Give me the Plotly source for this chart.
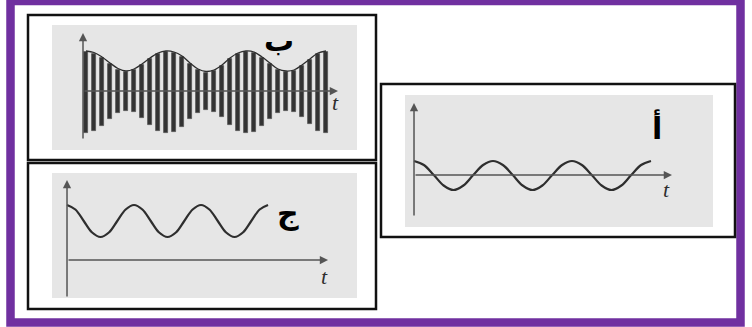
import plotly.graph_objects as go

W, H = 752, 327

# --- panel ب : modulated wave, one stripe per carrier cycle (heights in px above/below axis)
carrier_k = list(range(31))
am_top = [39, 37.5, 33, 27, 21.5, 19, 21, 26, 32, 37,
          39, 38, 34, 27, 21, 18.5, 20, 25, 32, 37,
          39, 38, 33, 27, 21, 19, 20, 25, 31, 37, 39]
am_bottom = [42, 40, 35, 28, 22, 19.5, 21, 27, 34, 40,
             42, 41, 36, 28, 22, 19, 21, 26, 34, 40,
             42, 41, 35, 28, 22, 19.5, 21, 26, 33, 40, 42]

# --- panel ج : wave sitting above the time axis (eighth-period samples)
wave_c_t = [i / 8 for i in range(25)]
wave_c_y = [55, 50.5, 39, 27.5, 23, 27.5, 39, 50.5] * 3 + [55]

# --- panel أ : wave centred on the time axis
wave_a_t = [i / 8 for i in range(25)]
wave_a_y = [14, 10, 0, -10.5, -15, -10.5, 0, 10] * 3 + [14]

panel_labels = ["ب", "ج", "أ"]
axis_label = "t"

INK = "#2e2e2e"
AXIS = "#555555"
GRAY = "#e6e6e6"
PURPLE = "#7030a0"


def px(x):
    return x / W


def py(y):
    return 1 - y / H


fig = go.Figure()

# panel ب
fig.add_trace(go.Bar(x=carrier_k, y=[a + b for a, b in zip(am_top, am_bottom)],
                     base=[-b for b in am_bottom], width=0.62,
                     marker=dict(color="#333333", line=dict(color="#555555", width=0.8)),
                     xaxis="x", yaxis="y"))
fig.add_trace(go.Scatter(x=carrier_k, y=[v + 1 for v in am_top], mode="lines",
                         line=dict(color=INK, width=1.3, shape="spline"),
                         xaxis="x", yaxis="y"))
# panel ج
fig.add_trace(go.Scatter(x=wave_c_t, y=wave_c_y, mode="lines",
                         line=dict(color=INK, width=2.2, shape="spline"),
                         xaxis="x2", yaxis="y2"))
# panel أ
fig.add_trace(go.Scatter(x=wave_a_t, y=wave_a_y, mode="lines",
                         line=dict(color=INK, width=2.2, shape="spline"),
                         xaxis="x3", yaxis="y3"))

hidden = dict(visible=False, fixedrange=True)
fig.update_layout(
    width=W, height=H, margin=dict(l=0, r=0, t=0, b=0),
    paper_bgcolor="white", plot_bgcolor="rgba(0,0,0,0)",
    showlegend=False, bargap=0,
    xaxis=dict(domain=[px(52), px(357)], range=[-4.25, 33.875], anchor="y", **hidden),
    yaxis=dict(domain=[py(150), py(25)], range=[-59, 66], anchor="x", **hidden),
    xaxis2=dict(domain=[px(52), px(357)], range=[-0.224, 4.328], anchor="y2", **hidden),
    yaxis2=dict(domain=[py(298), py(173)], range=[-38, 87], anchor="x2", **hidden),
    xaxis3=dict(domain=[px(405), px(713)], range=[-0.114, 3.785], anchor="y3", **hidden),
    yaxis3=dict(domain=[py(227), py(95)], range=[-52, 80], anchor="x3", **hidden),
)

# frames: purple border, black boxes, gray scanned areas
shapes = [
    dict(type="rect", xref="paper", yref="paper", x0=px(10.5), x1=px(740.5),
         y0=py(1), y1=py(322.5), line=dict(color=PURPLE, width=8.5), layer="below"),
]
for x0, y0, x1, y1 in [(28, 15, 376, 160), (28, 163, 376, 309), (381, 84, 735, 237)]:
    shapes.append(dict(type="rect", xref="paper", yref="paper", x0=px(x0), x1=px(x1),
                       y0=py(y0), y1=py(y1), line=dict(color="#111111", width=2.5),
                       fillcolor="white", layer="below"))
for x0, y0, x1, y1 in [(52, 25, 357, 150), (52, 173, 357, 298), (405, 95, 713, 227)]:
    shapes.append(dict(type="rect", xref="paper", yref="paper", x0=px(x0), x1=px(x1),
                       y0=py(y0), y1=py(y1), line=dict(width=0),
                       fillcolor=GRAY, layer="below"))
fig.update_layout(shapes=shapes)

# axis arrows: (xref, yref, origin x, bottom y, top y, right x)
axes_spec = [
    ("x", "y", -0.375, -49, 58, 31.5),
    ("x2", "y2", 0, -38, 80, 3.896),
    ("x3", "y3", 0, -42, 72, 3.266),
]
ann = []
for xr, yr, x0, yb, yt, xe in axes_spec:
    # horizontal time axis
    ann.append(dict(xref=xr, yref=yr, axref=xr, ayref=yr, x=xe, y=0, ax=x0, ay=0,
                    text="", showarrow=True, arrowhead=2, arrowsize=1.1,
                    arrowwidth=1.5, arrowcolor=AXIS, standoff=0))
    # vertical axis
    ann.append(dict(xref=xr, yref=yr, axref=xr, ayref=yr, x=x0, y=yt, ax=x0, ay=yb,
                    text="", showarrow=True, arrowhead=2, arrowsize=1.1,
                    arrowwidth=1.5, arrowcolor=AXIS, standoff=0))

# "t" labels
for xr, yr, x, y in [("x", "y", 31.2, -11), ("x2", "y2", 3.85, -16), ("x3", "y3", 3.2, -14)]:
    ann.append(dict(xref=xr, yref=yr, x=x, y=y, text="<i>" + axis_label + "</i>",
                    showarrow=False,
                    font=dict(family="Liberation Serif", size=22, color=INK)))

# Arabic panel letters
for (xr, yr, x, y), lab in zip([("x", "y", 24.1, 51), ("x2", "y2", 3.30, 47),
                                ("x3", "y3", 3.076, 48)], panel_labels):
    ann.append(dict(xref=xr, yref=yr, x=x, y=y, text=lab, showarrow=False,
                    font=dict(family="DejaVu Sans", size=30, color="black", weight="bold")))

fig.update_layout(annotations=ann)

# the page body has a default 8px margin; drop it so the figure sits at the origin
fig.write_html("out.html", config={"displayModeBar": False},
               post_script="document.body.style.margin='0';")
